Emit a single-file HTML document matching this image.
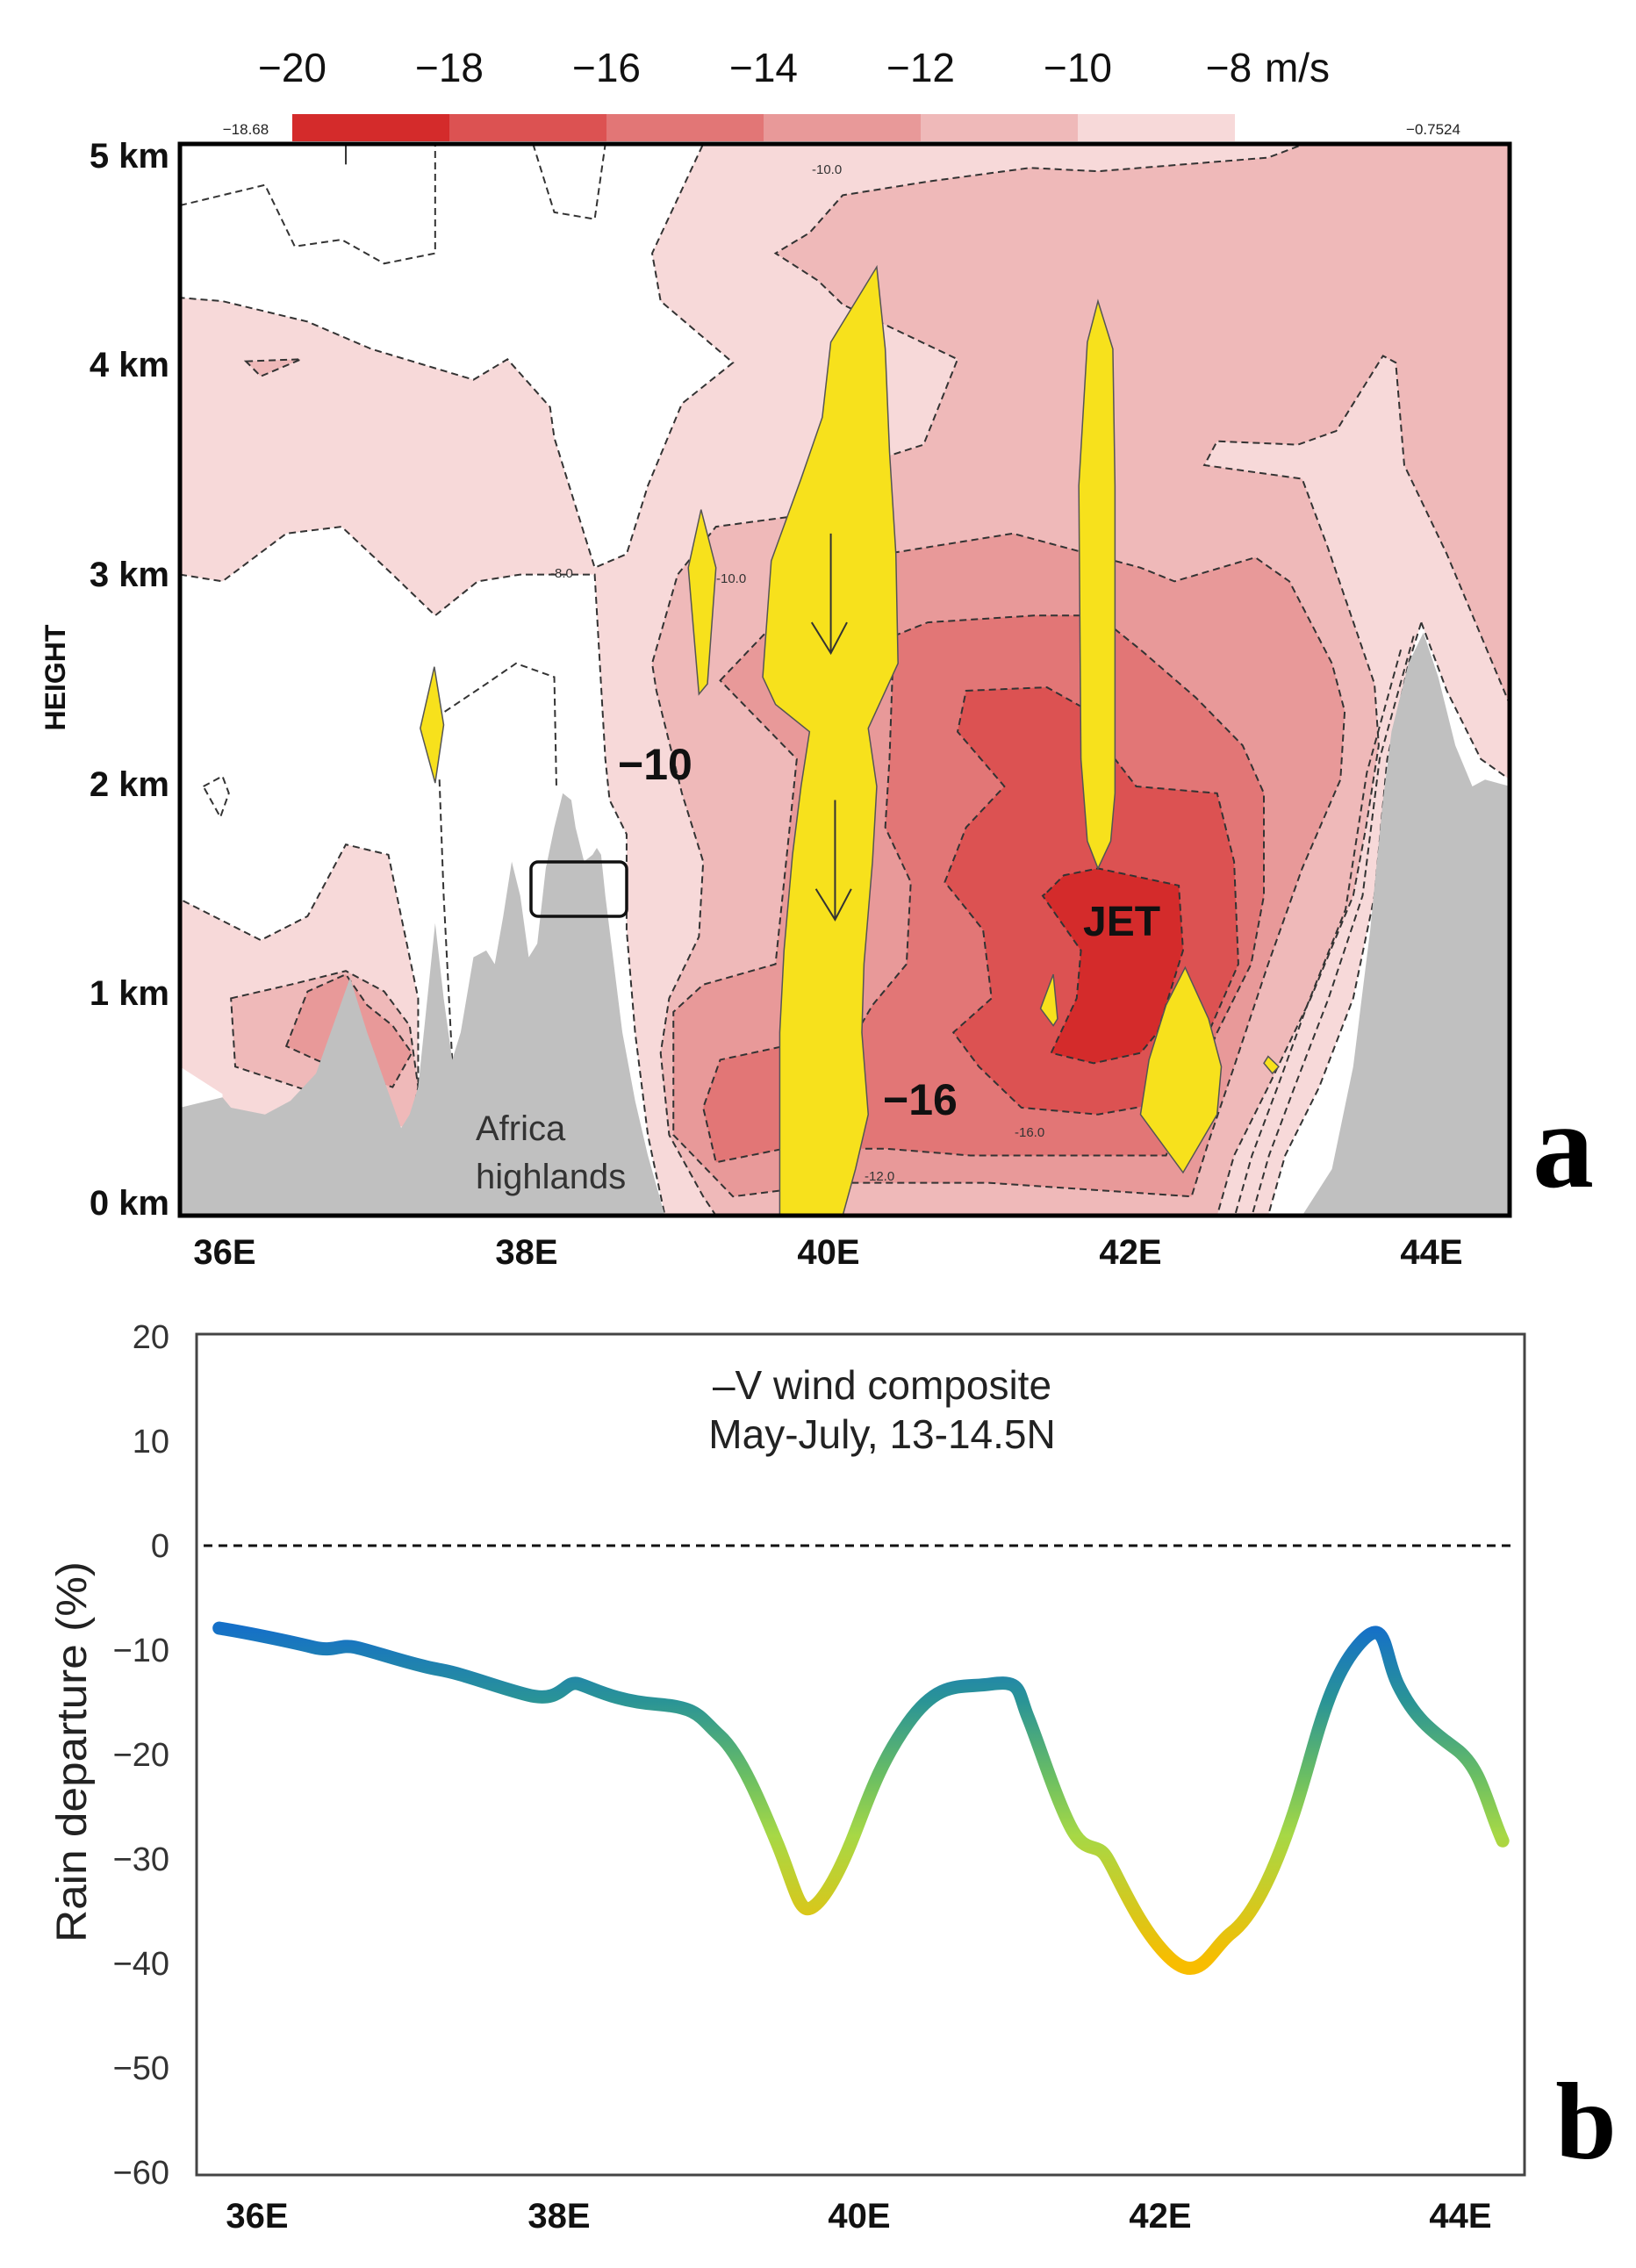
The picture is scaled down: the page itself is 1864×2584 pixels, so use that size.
<!DOCTYPE html>
<html><head><meta charset="utf-8"><style>
html,body{margin:0;padding:0;background:#fff}
svg{display:block}
text{font-family:"Liberation Sans",sans-serif}
</style></head><body>
<svg width="1864" height="2584" viewBox="0 0 1864 2584" xmlns="http://www.w3.org/2000/svg">
<defs>
<clipPath id="ca"><rect x="205" y="164" width="1515" height="1221"/></clipPath>
<linearGradient id="lg" gradientUnits="userSpaceOnUse" x1="0" y1="560" x2="0" y2="1085">
<stop offset="0" stop-color="#1570c8"/><stop offset="0.22" stop-color="#2a9496"/>
<stop offset="0.45" stop-color="#6cbf62"/><stop offset="0.62" stop-color="#a6d846"/>
<stop offset="1" stop-color="#f8bd00"/></linearGradient>
</defs>
<rect width="1864" height="2584" fill="#fff"/>

<g>
<rect x="333" y="130" width="180" height="31" fill="#d42b2b"/>
<rect x="512" y="130" width="180" height="31" fill="#dc5252"/>
<rect x="691" y="130" width="180" height="31" fill="#e27676"/>
<rect x="870" y="130" width="180" height="31" fill="#e89999"/>
<rect x="1049" y="130" width="180" height="31" fill="#efb9b9"/>
<rect x="1228" y="130" width="179" height="31" fill="#f7d9d9"/>
</g>
<g font-size="46" fill="#111" text-anchor="middle">
<text x="333" y="93">−20</text><text x="512" y="93">−18</text><text x="691" y="93">−16</text>
<text x="870" y="93">−14</text><text x="1049" y="93">−12</text><text x="1228" y="93">−10</text>
<text x="1400" y="93">−8</text><text x="1478" y="93">m/s</text>
</g>
<text x="280" y="153" font-size="17" text-anchor="middle" fill="#222">−18.68</text>
<text x="1633" y="153" font-size="17" text-anchor="middle" fill="#222">−0.7524</text>

<g clip-path="url(#ca)">
<rect x="205" y="164" width="1515" height="1221" fill="#f7d9d9"/>
<g transform="translate(205,164) scale(0.4847,0.7787)" stroke="#333" stroke-width="2" stroke-dasharray="8 5">
<polygon vector-effect="non-scaling-stroke" fill="#fff" points="0,0 1230,0 1110,160 1130,230 1300,320 1180,380 1100,500 1050,600 975,620 880,430 870,385 770,315 690,345 450,300 300,260 100,230 0,225"/>
<polygon vector-effect="non-scaling-stroke" fill="#fff" points="0,630 100,640 250,570 380,560 500,630 600,690 700,640 800,630 975,630 1000,900 1010,960 1050,1010 1050,1150 1070,1300 1100,1450 1140,1568 560,1568 560,1250 520,1130 490,1040 390,1025 300,1130 190,1165 0,1105"/>
<polygon vector-effect="non-scaling-stroke" fill="#fff" stroke="none" points="0,1350 100,1390 110,1568 0,1568"/>
<polyline vector-effect="non-scaling-stroke" fill="none" points="0,90 200,60 270,150 380,140 480,175 600,160 600,0"/>
<polyline vector-effect="non-scaling-stroke" fill="none" points="830,0 880,100 975,110 1000,0"/>
<polyline vector-effect="non-scaling-stroke" fill="none" points="600,840 720,790 790,760 880,780 885,940"/>
<polyline vector-effect="non-scaling-stroke" fill="none" points="610,930 620,1100 640,1340"/>
<polygon vector-effect="non-scaling-stroke" fill="none" points="55,940 100,925 115,950 95,985"/>
<polygon vector-effect="non-scaling-stroke" fill="#efb9b9" points="155,318 285,315 190,340"/>
<polygon vector-effect="non-scaling-stroke" fill="#efb9b9" points="120,1250 260,1230 390,1210 480,1240 540,1290 560,1380 540,1440 400,1420 300,1385 130,1350"/>
<polygon vector-effect="non-scaling-stroke" fill="#e89999" points="250,1320 300,1240 390,1215 440,1260 500,1290 545,1330 500,1380 400,1360 320,1340"/>
<polygon vector-effect="non-scaling-stroke" fill="#efb9b9" points="2643,0 3126,0 3126,820 2978,600 2878,470 2858,320 2828,310 2718,420 2628,440 2438,435 2408,470 2638,490 2698,590 2808,790 2818,880 2788,1000 2758,1100 2658,1250 2558,1380 2478,1480 2438,1568 1260,1568 1230,1540 1150,1450 1130,1330 1150,1250 1220,1160 1230,1050 1180,950 1120,800 1110,760 1170,630 1260,560 1440,545 1558,470 1648,460 1748,440 1828,315 1558,235 1500,200 1400,160 1480,130 1558,75 1758,55 1998,35 2158,40 2558,20"/>
<polygon vector-effect="non-scaling-stroke" fill="#e89999" points="1270,785 1400,700 1658,600 1958,570 2258,620 2338,640 2528,605 2608,640 2708,760 2738,830 2728,930 2638,1060 2558,1200 2478,1350 2418,1460 2378,1540 1900,1520 1558,1520 1300,1540 1160,1450 1160,1270 1230,1230 1400,1200 1450,900"/>
<polygon vector-effect="non-scaling-stroke" fill="#e27676" points="1678,720 1758,700 2008,690 2158,690 2258,740 2388,810 2498,880 2548,950 2548,1100 2518,1200 2438,1300 2358,1420 2318,1480 2158,1480 1858,1480 1658,1470 1420,1470 1260,1490 1230,1410 1270,1340 1420,1320 1600,1290 1628,1260 1708,1200 1718,1080 1658,1000 1668,900"/>
<polygon vector-effect="non-scaling-stroke" fill="#dc5252" points="1848,800 2038,795 2138,830 2198,900 2248,940 2438,950 2478,1050 2488,1200 2418,1300 2338,1400 2158,1420 1978,1410 1878,1350 1818,1300 1908,1250 1888,1150 1798,1080 1848,1000 1938,940 1828,860"/>
<polygon vector-effect="non-scaling-stroke" fill="#d42b2b" points="2038,1095 2078,1070 2158,1060 2348,1085 2358,1180 2298,1300 2258,1330 2148,1345 2048,1330 2108,1250 2118,1180 2028,1100"/>
<polygon vector-effect="non-scaling-stroke" fill="#fff" points="2918,700 2978,800 3058,900 3126,930 3126,1568 2558,1568 2598,1480 2678,1380 2758,1250 2808,1100 2838,900 2888,760"/>
<polyline vector-effect="non-scaling-stroke" fill="none" points="2900,720 2820,900 2780,1100 2700,1250 2620,1380 2560,1480 2520,1568"/>
<polyline vector-effect="non-scaling-stroke" fill="none" points="2870,740 2790,920 2740,1120 2650,1260 2580,1380 2520,1480 2480,1568"/>
<g stroke="none">
<polygon fill="#c0c0c0" points="0,1410 100,1395 120,1410 200,1420 260,1400 320,1360 360,1290 400,1220 440,1300 480,1370 520,1440 540,1420 560,1380 580,1260 600,1140 620,1250 640,1340 660,1300 690,1190 720,1180 740,1200 760,1130 780,1050 800,1100 820,1190 840,1170 860,1060 880,1000 900,950 920,960 930,1000 950,1050 970,1040 980,1030 990,1040 1000,1100 1020,1200 1040,1300 1070,1400 1100,1480 1140,1568 0,1568"/>
<polygon fill="#c0c0c0" points="2638,1568 2708,1500 2758,1350 2798,1150 2828,960 2848,860 2888,760 2923,715 2958,780 2998,880 3038,940 3068,930 3126,940 3126,1568"/>
<g fill="#f7e11c" stroke="#555" stroke-width="1.5" stroke-dasharray="none">
<polygon vector-effect="non-scaling-stroke" points="598,765 620,850 600,935 565,855"/>
<polygon vector-effect="non-scaling-stroke" points="1225,535 1260,620 1240,790 1220,805 1195,620"/>
<polygon vector-effect="non-scaling-stroke" points="1638,180 1658,300 1668,450 1683,600 1688,760 1618,855 1638,940 1628,1050 1608,1200 1603,1300 1618,1420 1588,1500 1558,1568 1410,1568 1410,1300 1420,1180 1440,1040 1460,940 1480,860 1400,820 1370,780 1390,610 1460,490 1510,400 1530,290"/>
<polygon vector-effect="non-scaling-stroke" points="2158,230 2193,300 2198,500 2198,950 2188,1020 2158,1060 2133,1020 2118,900 2113,500 2133,290"/>
<polygon vector-effect="non-scaling-stroke" points="2053,1215 2063,1280 2053,1290 2023,1265"/>
<polygon vector-effect="non-scaling-stroke" points="2363,1205 2418,1280 2448,1350 2438,1420 2358,1505 2258,1420 2278,1340 2318,1260"/>
<polygon vector-effect="non-scaling-stroke" points="2558,1335 2583,1350 2568,1360 2548,1345"/>
</g>
<g fill="none" stroke="#333" stroke-width="2" stroke-dasharray="none">
<polyline vector-effect="non-scaling-stroke" points="1530,570 1530,745"/>
<polyline vector-effect="non-scaling-stroke" points="1485,700 1530,745 1568,700"/>
<polyline vector-effect="non-scaling-stroke" points="1540,960 1540,1135"/>
<polyline vector-effect="non-scaling-stroke" points="1495,1090 1540,1135 1578,1090"/>
<line vector-effect="non-scaling-stroke" x1="390" y1="0" x2="390" y2="30"/>
</g>
</g>
</g>
<g font-size="15" fill="#333">
<text x="925" y="198">-10.0</text>
<text x="816" y="664">-10.0</text>
<text x="627" y="658">-8.0</text>
<text x="1156" y="1295">-16.0</text>
<text x="985" y="1345">-12.0</text>
</g>
</g>
<rect x="205" y="164" width="1515" height="1221" fill="none" stroke="#000" stroke-width="5"/>
<rect x="605" y="982" width="109" height="62" rx="8" fill="none" stroke="#111" stroke-width="3.5"/>
<text x="704" y="888" font-size="50" font-weight="bold" fill="#111">−10</text>
<text x="1006" y="1270" font-size="50" font-weight="bold" fill="#111">−16</text>
<text x="1234" y="1066" font-size="48" font-weight="bold" fill="#111">JET</text>
<text x="542" y="1299" font-size="40" fill="#333">Africa</text>
<text x="542" y="1354" font-size="40" fill="#333">highlands</text>
<g font-size="40" font-weight="bold" fill="#111" text-anchor="end">
<text x="193" y="191">5 km</text><text x="193" y="429">4 km</text><text x="193" y="668">3 km</text>
<text x="193" y="907">2 km</text><text x="193" y="1145">1 km</text><text x="193" y="1384">0 km</text>
</g>
<g font-size="40" font-weight="bold" fill="#111" text-anchor="middle">
<text x="256" y="1440">36E</text><text x="600" y="1440">38E</text><text x="944" y="1440">40E</text>
<text x="1288" y="1440">42E</text><text x="1631" y="1440">44E</text>
</g>
<text transform="translate(74,772) rotate(-90)" font-size="32" font-weight="bold" text-anchor="middle" fill="#111">HEIGHT</text>
<text x="1781" y="1352" font-size="140" font-weight="bold" text-anchor="middle" fill="#000" style="font-family:'Liberation Serif',serif">a</text>

<rect x="224" y="1520" width="1513" height="958" fill="none" stroke="#444" stroke-width="3"/>
<line x1="232" y1="1761" x2="1722" y2="1761" stroke="#111" stroke-width="3" stroke-dasharray="10 7"/>
<g font-size="38" fill="#333" text-anchor="end">
<text x="193" y="1536">20</text><text x="193" y="1655">10</text><text x="193" y="1774">0</text>
<text x="193" y="1893">−10</text><text x="193" y="2012">−20</text><text x="193" y="2131">−30</text>
<text x="193" y="2250">−40</text><text x="193" y="2369">−50</text><text x="193" y="2488">−60</text>
</g>
<g font-size="40" font-weight="bold" fill="#111" text-anchor="middle">
<text x="293" y="2538">36E</text><text x="637" y="2538">38E</text><text x="979" y="2538">40E</text>
<text x="1322" y="2538">42E</text><text x="1664" y="2538">44E</text>
</g>
<text x="1005" y="1594" font-size="46" fill="#222" text-anchor="middle">–V wind composite</text>
<text x="1005" y="1650" font-size="46" fill="#222" text-anchor="middle">May-July,  13-14.5N</text>
<text transform="translate(98,1996) rotate(-90)" font-size="48" fill="#222" text-anchor="middle" textLength="434" lengthAdjust="spacingAndGlyphs">Rain departure (%)</text>
<g transform="translate(0,1450) scale(1.189,0.7232)">
<path vector-effect="non-scaling-stroke" fill="none" stroke="url(#lg)" stroke-width="15" stroke-linejoin="round" stroke-linecap="round"
d="M210,560 C240,568 280,582 300,590 S325,585 340,590 S395,618 420,625 S470,650 505,665 S540,640 555,648 S590,675 630,680 S670,700 690,730 S730,840 745,900 S765,1005 775,1002 S800,960 815,900 S840,780 870,710 S920,655 950,648 S975,660 985,700 S1010,820 1025,870 S1050,895 1060,920 S1090,1030 1120,1078 S1160,1065 1180,1040 S1220,950 1240,850 S1270,650 1300,590 S1325,600 1340,650 S1370,720 1395,750 S1425,840 1440,895"/>
</g>
<text x="1807" y="2459" font-size="125" font-weight="bold" fill="#000" text-anchor="middle" style="font-family:'Liberation Serif',serif">b</text>
</svg>
</body></html>
